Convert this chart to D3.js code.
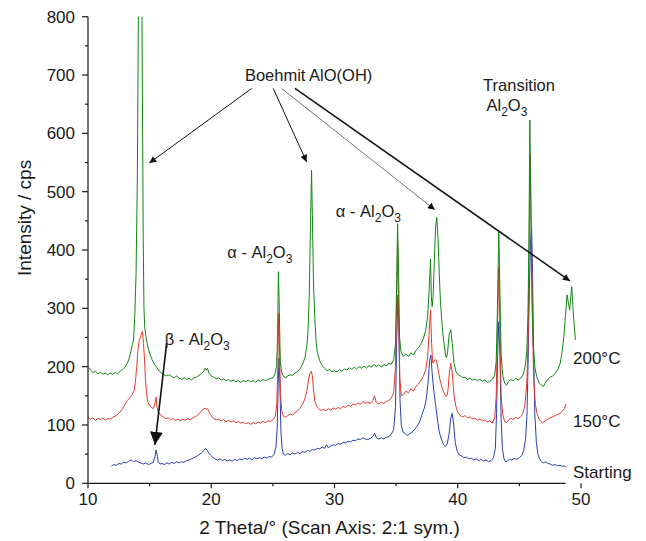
<!DOCTYPE html>
<html>
<head>
<meta charset="utf-8">
<script src="https://cdn.jsdelivr.net/npm/d3@7"></script>
<style>
  html, body { margin: 0; padding: 0; background: #fff; }
  svg { display: block; }
  text { font-family: "Liberation Sans", Arial, Helvetica, sans-serif; fill: #1a1a1a; }
</style>
</head>
<body>
<svg id="chart" width="646" height="541"></svg>
<script>
// XRD scans: [2θ in degrees, intensity in cps]
const scan200C = [
  [10.0,199],[10.2,194],[10.4,190],[10.6,192],[10.8,188],[11.0,190],[11.2,187],[11.4,189],[11.6,186],[11.8,189],
  [12.0,187],[12.2,190],[12.4,188],[12.6,192],[12.8,195],[13.0,199],[13.2,206],[13.35,215],[13.5,228],[13.6,238],
  [13.7,246],[13.8,290],[13.9,360],[14.0,520],[14.25,1300],[14.48,420],[14.54,300],[14.6,268],[14.7,252],[14.8,240],
  [14.9,230],[15.0,223],[15.2,212],[15.4,204],[15.6,198],[15.8,192],[16.0,188],[16.2,186],[16.4,184],[16.6,186],
  [16.8,183],[17.0,181],[17.2,184],[17.4,180],[17.6,178],[17.8,181],[18.0,178],[18.2,180],[18.4,177],[18.6,181],
  [18.8,182],[19.0,185],[19.2,188],[19.4,192],[19.5,197],[19.6,194],[19.7,197],[19.8,189],[20.0,184],[20.2,182],
  [20.4,179],[20.6,181],[20.8,177],[21.0,179],[21.2,176],[21.4,178],[21.6,175],[21.8,177],[22.0,174],[22.2,176],
  [22.4,173],[22.6,176],[22.8,174],[23.0,177],[23.2,174],[23.4,176],[23.6,173],[23.8,177],[24.0,175],[24.2,178],
  [24.4,176],[24.6,178],[24.8,180],[25.0,181],[25.15,186],[25.3,200],[25.38,250],[25.45,363],[25.52,300],[25.6,210],
  [25.7,192],[25.8,185],[26.0,181],[26.2,184],[26.4,186],[26.6,185],[26.8,189],[27.0,192],[27.2,196],[27.4,204],
  [27.6,215],[27.75,235],[27.85,260],[27.95,320],[28.05,440],[28.14,537],[28.22,440],[28.3,340],[28.4,285],[28.5,245],
  [28.6,225],[28.8,210],[29.0,202],[29.2,197],[29.4,193],[29.6,195],[29.8,191],[30.0,193],[30.2,191],[30.4,195],
  [30.6,192],[30.8,196],[31.0,194],[31.2,198],[31.4,195],[31.6,199],[31.8,196],[32.0,200],[32.2,197],[32.4,201],
  [32.6,198],[32.8,202],[33.0,199],[33.2,204],[33.4,200],[33.6,203],[33.8,199],[34.0,204],[34.2,201],[34.4,206],
  [34.6,204],[34.8,212],[34.95,240],[35.05,350],[35.12,445],[35.2,360],[35.28,250],[35.4,225],[35.6,218],[35.8,222],
  [36.0,217],[36.2,224],[36.4,220],[36.6,228],[36.8,232],[37.0,238],[37.2,248],[37.4,262],[37.55,285],[37.68,330],
  [37.79,384],[37.86,320],[37.92,303],[38.0,320],[38.1,380],[38.2,440],[38.3,456],[38.4,420],[38.5,360],[38.6,310],
  [38.7,280],[38.8,255],[38.9,238],[39.0,222],[39.08,215],[39.18,225],[39.3,255],[39.44,263],[39.55,240],[39.7,205],
  [39.85,192],[40.0,187],[40.2,184],[40.4,181],[40.6,182],[40.8,178],[41.0,180],[41.2,177],[41.4,179],[41.6,176],
  [41.8,178],[42.0,175],[42.2,177],[42.4,173],[42.6,175],[42.8,178],[43.0,185],[43.12,210],[43.22,300],[43.33,431],
  [43.42,330],[43.52,220],[43.65,185],[43.8,172],[43.96,168],[44.1,174],[44.3,178],[44.5,176],[44.7,180],[44.9,177],
  [45.1,180],[45.3,186],[45.45,198],[45.6,225],[45.7,290],[45.78,430],[45.85,623],[45.93,470],[46.02,320],[46.12,240],
  [46.25,200],[46.4,183],[46.6,172],[46.8,168],[46.95,166],[47.1,172],[47.3,178],[47.5,182],[47.7,184],[47.9,188],
  [48.1,194],[48.3,205],[48.45,222],[48.6,250],[48.75,290],[48.87,323],[48.97,310],[49.08,297],[49.17,320],[49.25,337],
  [49.35,300],[49.45,270],[49.55,246]
];

const scan150C = [
  [10.0,114],[10.2,110],[10.4,112],[10.6,108],[10.8,111],[11.0,109],[11.2,112],[11.4,108],[11.6,111],[11.8,110],
  [12.0,113],[12.2,115],[12.4,118],[12.6,122],[12.8,128],[13.0,135],[13.2,142],[13.4,147],[13.6,152],[13.75,160],
  [13.85,175],[13.95,198],[14.05,228],[14.15,245],[14.25,250],[14.35,258],[14.42,260],[14.5,240],[14.58,215],[14.66,180],
  [14.75,155],[14.85,140],[15.0,133],[15.15,130],[15.3,128],[15.42,136],[15.52,148],[15.6,130],[15.7,122],[15.9,117],
  [16.1,114],[16.3,111],[16.5,112],[16.7,109],[16.9,111],[17.1,108],[17.3,110],[17.5,107],[17.7,110],[17.9,108],
  [18.1,111],[18.3,109],[18.5,112],[18.7,114],[18.9,117],[19.1,121],[19.3,126],[19.5,129],[19.6,127],[19.7,128],
  [19.85,121],[20.0,116],[20.2,111],[20.4,109],[20.6,110],[20.8,107],[21.0,109],[21.2,106],[21.4,108],[21.6,105],
  [21.8,107],[22.0,104],[22.2,106],[22.4,103],[22.6,105],[22.8,102],[23.0,104],[23.2,101],[23.4,104],[23.6,102],
  [23.8,105],[24.0,103],[24.2,106],[24.4,104],[24.6,107],[24.8,106],[25.0,109],[25.2,115],[25.32,135],[25.4,200],
  [25.47,291],[25.55,220],[25.62,150],[25.72,125],[25.85,115],[26.0,113],[26.2,116],[26.4,119],[26.6,117],[26.8,121],
  [27.0,124],[27.2,129],[27.4,135],[27.6,145],[27.75,158],[27.9,178],[28.0,188],[28.12,192],[28.2,185],[28.3,160],
  [28.4,142],[28.55,132],[28.7,128],[28.9,125],[29.1,127],[29.3,124],[29.5,128],[29.7,125],[29.9,129],[30.1,127],
  [30.3,130],[30.5,128],[30.7,132],[30.9,130],[31.1,134],[31.3,132],[31.5,136],[31.7,134],[31.9,138],[32.1,135],
  [32.3,140],[32.5,137],[32.7,139],[32.9,137],[33.1,142],[33.25,150],[33.4,138],[33.6,136],[33.8,139],[34.0,137],
  [34.2,140],[34.4,142],[34.6,146],[34.8,155],[34.95,200],[35.05,330],[35.12,412],[35.2,300],[35.3,180],[35.42,150],
  [35.6,152],[35.8,158],[36.0,155],[36.2,162],[36.4,158],[36.6,166],[36.8,170],[37.0,176],[37.2,183],[37.4,195],
  [37.55,215],[37.68,260],[37.79,297],[37.88,240],[37.97,206],[38.05,208],[38.15,212],[38.28,211],[38.4,195],[38.55,178],
  [38.7,166],[38.85,157],[39.0,150],[39.1,149],[39.2,158],[39.32,190],[39.44,206],[39.55,190],[39.7,150],[39.85,132],
  [40.0,122],[40.2,116],[40.4,114],[40.6,116],[40.8,112],[41.0,114],[41.2,110],[41.4,112],[41.6,108],[41.8,110],
  [42.0,107],[42.2,109],[42.4,105],[42.6,107],[42.8,103],[43.0,112],[43.12,150],[43.22,260],[43.33,370],[43.42,270],
  [43.52,150],[43.65,118],[43.8,106],[43.96,104],[44.1,108],[44.3,112],[44.5,109],[44.7,113],[44.9,111],[45.1,114],
  [45.3,120],[45.45,135],[45.6,170],[45.7,240],[45.78,380],[45.88,563],[45.97,440],[46.06,280],[46.16,180],[46.3,135],
  [46.45,118],[46.65,108],[46.9,104],[47.1,107],[47.3,110],[47.5,112],[47.7,114],[47.9,116],[48.1,118],[48.3,120],
  [48.5,124],[48.65,128],[48.8,136]
];

const scanStarting = [
  [11.9,30],[12.1,32],[12.3,31],[12.5,34],[12.7,33],[12.9,36],[13.1,35],[13.3,38],[13.5,40],[13.7,37],
  [13.9,39],[14.1,36],[14.3,35],[14.5,33],[14.7,35],[14.9,32],[15.1,34],[15.3,36],[15.42,45],[15.52,57],
  [15.6,50],[15.7,37],[15.85,33],[16.0,34],[16.2,32],[16.4,35],[16.6,33],[16.8,36],[17.0,34],[17.2,37],
  [17.4,35],[17.6,37],[17.8,36],[18.0,39],[18.2,40],[18.4,42],[18.6,44],[18.8,46],[19.0,49],[19.2,52],
  [19.4,56],[19.55,60],[19.65,57],[19.8,52],[19.95,48],[20.1,45],[20.3,42],[20.5,40],[20.7,42],[20.9,39],
  [21.1,41],[21.3,38],[21.5,40],[21.7,38],[21.9,41],[22.1,39],[22.3,42],[22.5,40],[22.7,43],[22.9,41],
  [23.1,43],[23.3,40],[23.5,44],[23.7,42],[23.9,44],[24.1,42],[24.3,45],[24.5,43],[24.7,46],[24.9,45],
  [25.1,50],[25.25,62],[25.35,95],[25.43,170],[25.5,215],[25.57,170],[25.65,90],[25.75,60],[25.85,50],[26.0,48],
  [26.2,51],[26.4,49],[26.6,52],[26.8,50],[27.0,53],[27.2,51],[27.4,54],[27.6,53],[27.8,56],[28.0,55],
  [28.2,58],[28.4,57],[28.6,60],[28.8,59],[29.0,62],[29.2,60],[29.35,66],[29.5,61],[29.7,64],[29.9,66],
  [30.1,65],[30.3,68],[30.5,67],[30.7,70],[30.9,69],[31.1,72],[31.3,71],[31.5,74],[31.7,73],[31.9,76],
  [32.1,75],[32.3,78],[32.5,76],[32.7,75],[32.9,77],[33.1,80],[33.25,86],[33.4,78],[33.6,76],[33.8,78],
  [34.0,76],[34.2,79],[34.4,80],[34.6,84],[34.8,92],[34.95,130],[35.05,250],[35.15,323],[35.23,250],[35.32,140],
  [35.42,100],[35.55,88],[35.7,86],[35.9,82],[36.1,85],[36.3,88],[36.5,92],[36.7,98],[36.9,105],[37.1,118],
  [37.3,130],[37.45,145],[37.6,175],[37.72,210],[37.82,220],[37.92,190],[38.05,160],[38.2,135],[38.35,110],[38.5,88],
  [38.7,74],[38.85,66],[39.0,63],[39.15,68],[39.3,85],[39.42,110],[39.55,120],[39.65,105],[39.8,70],[39.95,55],
  [40.1,49],[40.3,47],[40.5,44],[40.7,45],[40.9,42],[41.1,43],[41.3,40],[41.5,42],[41.7,39],[41.9,41],
  [42.1,38],[42.3,40],[42.5,37],[42.7,39],[42.9,44],[43.05,60],[43.15,120],[43.25,230],[43.33,277],[43.42,220],
  [43.52,110],[43.62,60],[43.75,42],[43.9,37],[44.05,39],[44.2,41],[44.4,40],[44.6,43],[44.8,41],[45.0,44],
  [45.2,48],[45.35,56],[45.5,75],[45.62,120],[45.72,220],[45.82,340],[45.9,410],[45.99,440],[46.07,360],[46.15,230],
  [46.25,120],[46.38,70],[46.5,50],[46.65,42],[46.8,37],[46.95,35],[47.1,37],[47.3,34],[47.5,33],[47.7,31],
  [47.9,32],[48.1,30],[48.3,31],[48.5,29],[48.65,30],[48.77,28]
];

const seriesNames = ["Starting", "150°C", "200°C"];
const xTicks = [10, 20, 30, 40, 50];
const xMinorTicks = [15, 25, 35, 45];
const yTicks = [0, 100, 200, 300, 400, 500, 600, 700, 800];
const yMinorTicks = [50, 150, 250, 350, 450, 550, 650, 750];

const svg = d3.select("#chart");
const plotLeft = 88, plotRight = 581, plotTop = 16.7, plotBottom = 483.3;

const x = d3.scaleLinear().domain([10, 50]).range([plotLeft, plotRight]);
const y = d3.scaleLinear().domain([0, 800]).range([plotBottom, plotTop]);

const colors = { "Starting": "#2a3fae", "150°C": "#e53a2f", "200°C": "#138513" };
const scans = { "Starting": scanStarting, "150°C": scan150C, "200°C": scan200C };

const defs = svg.append("defs");
defs.append("clipPath").attr("id", "plotClip")
  .append("rect").attr("x", plotLeft).attr("y", plotTop)
  .attr("width", plotRight - plotLeft).attr("height", plotBottom - plotTop);

// Traces, blue first so the green one sits on top
const line = d3.line().x(d => x(d[0])).y(d => y(d[1]));
const traces = svg.append("g").attr("clip-path", "url(#plotClip)");
seriesNames.forEach(name => {
  traces.append("path")
    .datum(scans[name])
    .attr("d", line)
    .attr("fill", "none")
    .attr("stroke", colors[name])
    .attr("stroke-width", 1)
    .attr("stroke-linejoin", "round");
});

// Axes
const axisG = svg.append("g").attr("stroke", "#1a1a1a").attr("stroke-width", 1.2);
axisG.append("line").attr("x1", plotLeft).attr("x2", plotLeft).attr("y1", y(0)).attr("y2", y(800));
axisG.append("line").attr("x1", plotLeft).attr("x2", x(48.75)).attr("y1", y(0)).attr("y2", y(0));

axisG.selectAll(".ytick").data(yTicks).join("line")
  .attr("x1", plotLeft - 6).attr("x2", plotLeft).attr("y1", d => y(d)).attr("y2", d => y(d));
axisG.selectAll(".yminor").data(yMinorTicks).join("line")
  .attr("x1", plotLeft - 3).attr("x2", plotLeft).attr("y1", d => y(d)).attr("y2", d => y(d));
axisG.selectAll(".xtick").data(xTicks).join("line")
  .attr("x1", d => x(d)).attr("x2", d => x(d)).attr("y1", y(0)).attr("y2", y(0) + 5);
axisG.selectAll(".xminor").data(xMinorTicks).join("line")
  .attr("x1", d => x(d)).attr("x2", d => x(d)).attr("y1", y(0)).attr("y2", y(0) + 3);

svg.append("g").selectAll("text").data(yTicks).join("text")
  .attr("x", plotLeft - 13).attr("y", d => y(d)).attr("dy", "0.35em")
  .attr("text-anchor", "end").attr("font-size", 17).text(d => d);
svg.append("g").selectAll("text").data(xTicks).join("text")
  .attr("x", d => x(d)).attr("y", y(0) + 22)
  .attr("text-anchor", "middle").attr("font-size", 17).text(d => d);

svg.append("text").attr("x", (plotLeft + plotRight) / 2 - 5).attr("y", 534)
  .attr("text-anchor", "middle").attr("font-size", 19)
  .text("2 Theta/° (Scan Axis: 2:1 sym.)");
svg.append("text")
  .attr("transform", `translate(31, ${y(455)}) rotate(-90)`)
  .attr("text-anchor", "middle").attr("font-size", 19)
  .text("Intensity / cps");

// Series names at the right end of the traces
const seriesLabelY = { "200°C": 215, "150°C": 106, "Starting": 20 };
svg.append("g").selectAll("text").data(seriesNames).join("text")
  .attr("x", 573).attr("y", d => y(seriesLabelY[d])).attr("dy", "0.35em")
  .attr("font-size", 17).text(d => d);

// Arrow markers
defs.append("marker").attr("id", "headSmall")
  .attr("viewBox", "0 0 10 10").attr("refX", 10).attr("refY", 5)
  .attr("markerWidth", 9).attr("markerHeight", 7).attr("markerUnits", "userSpaceOnUse")
  .attr("orient", "auto")
  .append("path").attr("d", "M0,0 L10,5 L0,10 Z").attr("fill", "#111");
defs.append("marker").attr("id", "headLarge")
  .attr("viewBox", "0 0 10 10").attr("refX", 10).attr("refY", 5)
  .attr("markerWidth", 13).attr("markerHeight", 13).attr("markerUnits", "userSpaceOnUse")
  .attr("orient", "auto")
  .append("path").attr("d", "M0,0 L10,5 L0,10 Z").attr("fill", "#111");

// Boehmite reflections
const boehmiteArrows = [
  { from: [23.28, 677], to: [14.97, 549], w: 1 },
  { from: [25.03, 677], to: [27.74, 551], w: 1 },
  { from: [25.71, 677], to: [38.14, 469], w: 0.6 },
  { from: [26.79, 677], to: [49.10, 347], w: 1.5 }
];
svg.append("g").selectAll("line").data(boehmiteArrows).join("line")
  .attr("x1", d => x(d.from[0])).attr("y1", d => y(d.from[1]))
  .attr("x2", d => x(d.to[0])).attr("y2", d => y(d.to[1]))
  .attr("stroke", "#111").attr("stroke-width", d => d.w)
  .attr("marker-end", "url(#headSmall)");
svg.append("text").attr("x", x(27.9)).attr("y", y(700)).attr("dy", "0.35em")
  .attr("text-anchor", "middle").attr("font-size", 16.5).text("Boehmit AlO(OH)");

// β-alumina reflection
svg.append("line")
  .attr("x1", x(16.38)).attr("y1", y(240)).attr("x2", x(15.43)).attr("y2", y(66))
  .attr("stroke", "#111").attr("stroke-width", 1.6)
  .attr("marker-end", "url(#headLarge)");

function phaseLabel(px, py, prefix, anchor) {
  const t = svg.append("text").attr("x", px).attr("y", py).attr("dy", "0.35em")
    .attr("font-size", 16.5).attr("text-anchor", anchor || "start");
  t.append("tspan").text(prefix + "Al");
  t.append("tspan").attr("font-size", 12).attr("dy", 5).text("2");
  t.append("tspan").attr("dy", -5).text("O");
  t.append("tspan").attr("font-size", 12).attr("dy", 5).text("3");
  return t;
}
phaseLabel(x(16.22), y(247), "β - ");
phaseLabel(x(21.3), y(397), "α - ");
phaseLabel(x(30.11), y(466), "α - ");

svg.append("text").attr("x", x(44.97)).attr("y", y(683)).attr("dy", "0.35em")
  .attr("text-anchor", "middle").attr("font-size", 16.5).text("Transition");
phaseLabel(x(43.99), y(648), "", "middle");
</script>
</body>
</html>
